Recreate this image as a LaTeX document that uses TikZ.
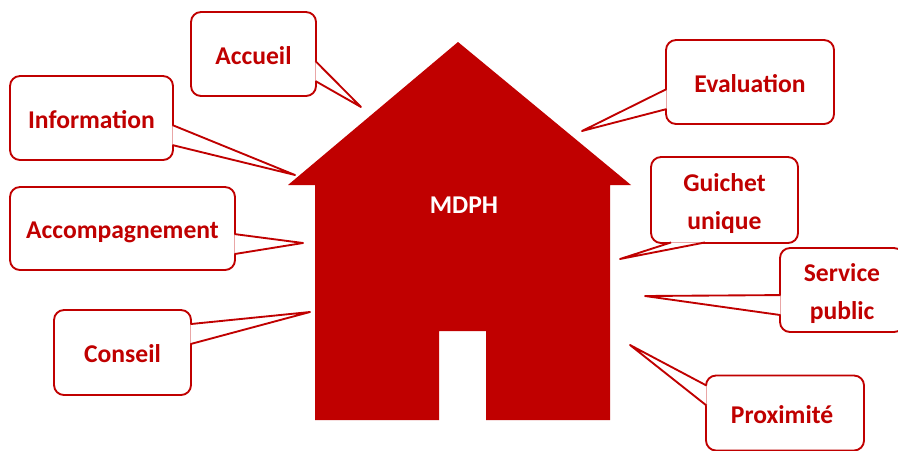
\documentclass[tikz,border=0pt]{standalone}
\usepackage{fontspec}
\setmainfont{Carlito}
\usetikzlibrary{calc}
\definecolor{rougeMDPH}{HTML}{C00000}
\tikzset{
  bulle/.style={rectangle, rounded corners=7.5pt, draw=rougeMDPH, line width=1.4pt, fill=white, text=rougeMDPH, align=center, inner sep=0pt, text depth=0pt, font=\fontsize{19.2}{28.5}\selectfont\bfseries},
  pointe/.style={draw=rougeMDPH, line width=1.4pt, fill=white, line join=round}
}
\begin{document}
\begin{tikzpicture}[x=0.75pt, y=-0.75pt]
    \clip (0,0) rectangle (898,450);

    % Maison
    \fill[rougeMDPH] (458,42) -- (631,185) -- (610,185) -- (610,420) -- (486,420) -- (486,331) -- (439,331) -- (439,420) -- (315,420) -- (315,185) -- (288,185) -- cycle;
    \node[text=white, font=\fontsize{19.2}{23}\selectfont\bfseries] (mdph) at (464,205) {MDPH};

    % Bulles
    \foreach \nom/\cx/\cy/\w/\h/\haut/\txt in {
        accueil/253.5/54/125/84/15pt/Accueil,
        information/91.5/118/163/84/15pt/Information,
        accompagnement/122.5/228.5/225/83/15pt/Accompagnement,
        conseil/122.5/352.5/137/85/15pt/Conseil,
        evaluation/750/82/168/84/15pt/Evaluation,
        guichet/724.5/200/147/86/43.5pt/{Guichet\\unique},
        service/842/290/124/84/43.5pt/{Service\\public},
        proximite/785/413/158/75/15pt/Proximité
    } {
        \node[bulle, text height=\haut, minimum width=\w*0.75pt, minimum height=\h*0.75pt] (\nom) at (\cx,\cy) {\txt};
    }

    % Pointes
    \coordinate (pAccueil) at (361,107);
    \coordinate (pInformation) at (295,175);
    \coordinate (pAccompagnement) at (303,243);
    \coordinate (pConseil) at (310,312);
    \coordinate (pEvaluation) at (582,131);
    \coordinate (pGuichet) at (620,259);
    \coordinate (pService) at (645,296);
    \coordinate (pProximite) at (630,345);

    \draw[pointe] ($(accueil.north east)+(-1.5,50)$) -- (pAccueil) -- ($(accueil.north east)+(-1.5,70)$);
    \draw[pointe] ($(information.north east)+(-1.5,50)$) -- (pInformation) -- ($(information.north east)+(-1.5,70)$);
    \draw[pointe] ($(accompagnement.north east)+(-1.5,48)$) -- (pAccompagnement) -- ($(accompagnement.north east)+(-1.5,68)$);
    \draw[pointe] ($(conseil.north east)+(-1.5,15)$) -- (pConseil) -- ($(conseil.north east)+(-1.5,35)$);
    \draw[pointe] ($(evaluation.north west)+(1.5,50)$) -- (pEvaluation) -- ($(evaluation.north west)+(1.5,70)$);
    \draw[pointe] ($(guichet.south west)+(55,-1.5)$) -- (pGuichet) -- ($(guichet.south west)+(21,-1.5)$);
    \draw[pointe] ($(service.north west)+(1.5,48)$) -- (pService) -- ($(service.north west)+(1.5,68)$);
    \draw[pointe] ($(proximite.north west)+(1.5,11)$) -- (pProximite) -- ($(proximite.north west)+(1.5,31)$);
\end{tikzpicture}
\end{document}
